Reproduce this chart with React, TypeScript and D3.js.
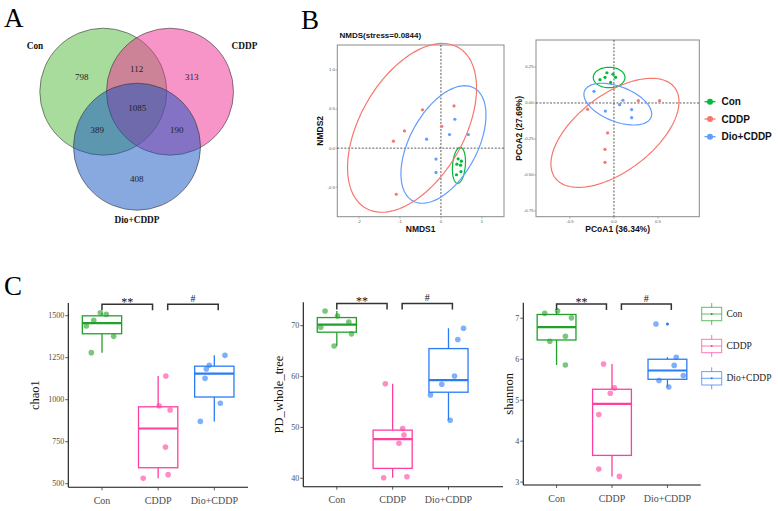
import React from "react";
import * as d3 from "d3";

// ---- data ----
const groups = ["Con", "CDDP", "Dio+CDDP"];

// A: shared / unique OTU counts
// order: Con only, Con&CDDP, CDDP only, all three, Con&Dio, CDDP&Dio, Dio only
const vennCounts = [798, 112, 313, 1085, 389, 190, 408];

// B: NMDS scores
const nmdsStress = 0.0844;
const nmdsCon: [number, number][] = [[0.42, -0.137], [0.5, -0.167], [0.39, -0.205], [0.48, -0.218], [0.49, -0.3], [0.38, -0.34]];
const nmdsCddp: [number, number][] = [[-1.16, 0.09], [-0.89, 0.22], [-0.45, 0.49], [0.32, 0.54], [0.02, 0.28], [-1.09, -0.59]];
const nmdsDio: [number, number][] = [[0.34, 0.37], [-0.35, 0.115], [0.21, 0.175], [0.67, 0.175], [-0.12, -0.14], [-0.12, -0.31]];
// 95% ellipses: [centre x, centre y, half width, half height, correlation]
const nmdsEllipses = [
  [0.44, -0.22, 0.16, 0.23, 0.2],
  [-0.705, 0.26, 1.575, 1.08, 0.47],
  [0.062, 0.047, 1.038, 0.752, 0.5],
];

// B: PCoA scores
const pcoaVar = [36.34, 27.69];
const pcoaCon: [number, number][] = [[-0.159, 0.162], [-0.08, 0.21], [-0.102, 0.178], [-0.011, 0.2], [0.019, 0.178], [-0.038, 0.143]];
const pcoaCddp: [number, number][] = [[-0.299, -0.044], [0.277, 0.016], [0.519, 0.016], [-0.072, -0.208], [-0.102, -0.322], [-0.102, -0.412]];
const pcoaDio: [number, number][] = [[-0.227, 0.081], [-0.098, -0.056], [0.064, -0.012], [0.102, 0.019], [0.201, -0.046], [0.201, -0.102]];
const pcoaEllipses = [
  [-0.055, 0.177, 0.18, 0.071, 0],
  [0.0115, -0.2075, 0.728, 0.379, 0.57],
  [0.0435, -0.008, 0.385, 0.145, -0.47],
];

// C: alpha diversity per sample (Con, CDDP, Dio+CDDP)
const chao1Values = [
  [1518, 1508, 1473, 1439, 1377, 1280],
  [1141, 964, 939, 718, 554, 532],
  [1264, 1205, 1183, 1127, 979, 871],
];
const pdValues = [
  [72.9, 71.9, 69.7, 70.7, 68.4, 66.0],
  [58.6, 49.8, 48.5, 46.9, 40.1, 40.3],
  [69.5, 67.3, 60.1, 58.5, 56.4, 51.4],
];
const shannonValues = [
  [7.12, 7.18, 7.01, 6.44, 6.56, 5.86],
  [5.885, 5.3, 5.17, 4.65, 3.32, 3.14],
  [6.86, 6.05, 5.85, 5.6, 5.48, 5.32],
];
// horizontal jitter of the dots, in category units
const chao1Jitter = [
  [-0.03, 0.076, -0.147, -0.279, 0.208, -0.19],
  [0.137, 0.018, 0.213, 0.13, 0.178, -0.266],
  [0.19, -0.089, -0.142, -0.165, 0.107, -0.249],
];
const pdJitter = [
  [-0.21, 0.013, -0.287, 0.215, 0.263, -0.048],
  [-0.131, 0.179, 0.203, 0.113, -0.161, 0.256],
  [0.269, 0.167, 0.108, -0.12, -0.323, 0.03],
];
const shannonJitter = [
  [-0.214, 0.018, 0.269, -0.122, 0.159, 0.159],
  [-0.152, 0.042, -0.031, -0.238, -0.238, 0.133],
  [-0.207, 0.159, 0.122, 0.287, -0.152, 0.024],
];
const sigLabels = ["**", "#"];

// ---- styles ----
const serif = "'Liberation Serif', 'Times New Roman', serif";
const sans = "'Liberation Sans', Arial, sans-serif";
const ggColors = ["#00BA38", "#F8766D", "#619CFF"];
const boxColors = ["#22a02a", "#ff3f9f", "#2a7cf6"];
const vennFills = ["#51b939", "#ef2991", "#1151c1"];

const fmt = (f: string) => (v: number) => d3.format(f)(v).replace("\u2212", "-");

function ellipsePoints(e: number[]) {
  const [cx, cy, hx, hy, rho] = e;
  const k = Math.sqrt(1 - rho * rho);
  return d3.range(0, 121).map((i) => {
    const t = (i / 120) * 2 * Math.PI;
    return [cx + hx * Math.cos(t), cy + hy * (rho * Math.cos(t) + k * Math.sin(t))] as [number, number];
  });
}

// ---- A: Venn ----
const Venn = () => {
  const r = 63.5;
  const centers = [[103.3, 91.7], [170, 91.7], [137, 146.7]];
  const numPos = [[81.7, 76.7], [136.7, 69.3], [191.7, 76.7], [137.3, 108.3], [97.3, 130], [176.7, 130], [136.7, 179]];
  const namePos = [[35, 49], [244.5, 49], [137, 223]];
  return (
    <g>
      <text x={4} y={27} fontFamily={serif} fontSize={27}>A</text>
      {centers.map((c, i) => (
        <circle key={i} cx={c[0]} cy={c[1]} r={r} fill={vennFills[i]} fillOpacity={0.5} stroke="#333" strokeWidth={0.6} />
      ))}
      {vennCounts.map((v, i) => (
        <text key={i} x={numPos[i][0]} y={numPos[i][1] + 3} textAnchor="middle" fontFamily={serif} fontSize={9} fill="#222">{v}</text>
      ))}
      {groups.map((s, i) => (
        <text key={s} x={namePos[i][0]} y={namePos[i][1]} textAnchor="middle" fontFamily={serif} fontWeight="bold" fontSize={9.3} fill="#111">{s}</text>
      ))}
    </g>
  );
};

// ---- B: ordination panels ----
interface OrdProps {
  box: { l: number; t: number; r: number; b: number };
  xDomain: [number, number];
  yDomain: [number, number];
  xTicks: number[];
  yTicks: number[];
  xFmt: (v: number) => string;
  yFmt: (v: number) => string;
  xLabel: string;
  yLabel: string;
  yLabelX: number;
  series: [number, number][][];
  ellipses: number[][];
}

const OrdPanel = ({ box, xDomain, yDomain, xTicks, yTicks, xFmt, yFmt, xLabel, yLabel, yLabelX, series, ellipses }: OrdProps) => {
  const x = d3.scaleLinear().domain(xDomain).range([box.l, box.r]);
  const y = d3.scaleLinear().domain(yDomain).range([box.b, box.t]);
  const line = d3.line<[number, number]>().x((d) => x(d[0])).y((d) => y(d[1]));
  return (
    <g>
      <rect x={box.l} y={box.t} width={box.r - box.l} height={box.b - box.t} fill="white" stroke="#8a8a8a" strokeWidth={1} />
      <line x1={x(0)} x2={x(0)} y1={box.t} y2={box.b} stroke="#333" strokeWidth={0.8} strokeDasharray="2,1.5" />
      <line x1={box.l} x2={box.r} y1={y(0)} y2={y(0)} stroke="#333" strokeWidth={0.8} strokeDasharray="2,1.5" />
      {ellipses.map((e, i) => (
        <path key={"e" + i} d={line(ellipsePoints(e))!} fill="none" stroke={ggColors[i]} strokeWidth={1.2} />
      ))}
      {series.map((pts, i) =>
        pts.map((p, j) => <circle key={i + "-" + j} cx={x(p[0])} cy={y(p[1])} r={1.6} fill={ggColors[i]} />)
      )}
      {xTicks.map((t) => (
        <g key={"x" + t}>
          <line x1={x(t)} x2={x(t)} y1={box.b} y2={box.b + 2} stroke="#8a8a8a" strokeWidth={0.6} />
          <text x={x(t)} y={box.b + 6} textAnchor="middle" fontFamily={sans} fontSize={4.2} fill="#555">{xFmt(t)}</text>
        </g>
      ))}
      {yTicks.map((t) => (
        <g key={"y" + t}>
          <line x1={box.l - 2} x2={box.l} y1={y(t)} y2={y(t)} stroke="#8a8a8a" strokeWidth={0.6} />
          <text x={box.l - 2.5} y={y(t) + 1.4} textAnchor="end" fontFamily={sans} fontSize={4.2} fill="#555">{yFmt(t)}</text>
        </g>
      ))}
      <text x={(box.l + box.r) / 2} y={232} textAnchor="middle" fontFamily={sans} fontWeight="bold" fontSize={8.5} fill="#111">{xLabel}</text>
      <text transform={`translate(${yLabelX},${(box.t + box.b) / 2}) rotate(-90)`} textAnchor="middle" fontFamily={sans} fontWeight="bold" fontSize={8.5} fill="#111">{yLabel}</text>
    </g>
  );
};

// ---- C: box plots ----
interface BoxProps {
  x0: number;
  x1: number;
  axisEnd: number;
  yTop: number;
  yBottom: number;
  yDomain: [number, number];
  yTicks: number[];
  values: number[][];
  jitter: number[][];
  label: string;
  labelX: number;
}

const BoxPanel = ({ x0, x1, axisEnd, yTop, yBottom, yDomain, yTicks, values, jitter, label, labelX }: BoxProps) => {
  const x = d3.scaleLinear().domain([-0.6, groups.length - 0.4]).range([x0, x1]);
  const y = d3.scaleLinear().domain(yDomain).range([yBottom, yTop]);
  const bw = (x(1) - x(0)) * 0.7;
  const stats = values.map((vals) => {
    const s = vals.slice().sort(d3.ascending);
    const q1 = d3.quantileSorted(s, 0.25)!;
    const med = d3.quantileSorted(s, 0.5)!;
    const q3 = d3.quantileSorted(s, 0.75)!;
    const iqr = q3 - q1;
    const inside = s.filter((v) => v >= q1 - 1.5 * iqr && v <= q3 + 1.5 * iqr);
    const out = s.filter((v) => v < q1 - 1.5 * iqr || v > q3 + 1.5 * iqr);
    return { q1, med, q3, lo: d3.min(inside)!, hi: d3.max(inside)!, out };
  });
  const bTop = yTop + 1.3;
  const brackets = [
    { from: 0, to: 0.9, label: sigLabels[0] },
    { from: 1.17, to: 2.07, label: sigLabels[1] },
  ];
  return (
    <g>
      {stats.map((s, i) => (
        <g key={"b" + i} stroke={boxColors[i]} fill="none">
          <line x1={x(i)} x2={x(i)} y1={y(s.hi)} y2={y(s.q3)} strokeWidth={1.3} />
          <line x1={x(i)} x2={x(i)} y1={y(s.q1)} y2={y(s.lo)} strokeWidth={1.3} />
          <rect x={x(i) - bw / 2} y={y(s.q3)} width={bw} height={y(s.q1) - y(s.q3)} fill="white" strokeWidth={1.3} />
          <line x1={x(i) - bw / 2} x2={x(i) + bw / 2} y1={y(s.med)} y2={y(s.med)} strokeWidth={2.2} />
          {s.out.map((o, k) => (
            <circle key={k} cx={x(i)} cy={y(o)} r={1.5} fill={boxColors[i]} stroke="none" />
          ))}
        </g>
      ))}
      {values.map((vals, i) =>
        vals.map((v, j) => (
          <circle key={i + "-" + j} cx={x(i + jitter[i][j])} cy={y(v)} r={2.8} fill={boxColors[i]} fillOpacity={0.6} />
        ))
      )}
      <line x1={x0} x2={x0} y1={yTop} y2={yBottom} stroke="#111" strokeWidth={1.1} />
      <line x1={x0} x2={axisEnd} y1={yBottom} y2={yBottom} stroke="#111" strokeWidth={1.1} />
      {yTicks.map((t) => (
        <g key={"y" + t}>
          <line x1={x0 - 3} x2={x0} y1={y(t)} y2={y(t)} stroke="#333" strokeWidth={0.8} />
          <text x={x0 - 4} y={y(t) + 2.7} textAnchor="end" fontFamily={serif} fontSize={8} fill="#4d4d4d">{t}</text>
        </g>
      ))}
      {groups.map((g, i) => (
        <g key={g}>
          <line x1={x(i)} x2={x(i)} y1={yBottom} y2={yBottom + 3} stroke="#333" strokeWidth={0.8} />
          <text x={x(i)} y={yBottom + 16.5} textAnchor="middle" fontFamily={serif} fontSize={10} fill="#4d4d4d">{g}</text>
        </g>
      ))}
      {brackets.map((b, k) => (
        <g key={"s" + k}>
          <path d={`M${x(b.from)},${bTop + 6}V${bTop}H${x(b.to)}V${bTop + 6}`} fill="none" stroke="#333" strokeWidth={1.5} />
          <text x={(x(b.from) + x(b.to)) / 2} y={b.label === "#" ? bTop - 2.5 : bTop + 1.5} textAnchor="middle" fontFamily={serif} fontSize={b.label === "#" ? 10 : 12} fill="#111">{b.label}</text>
        </g>
      ))}
      <text transform={`translate(${labelX},${(yTop + yBottom) / 2}) rotate(-90)`} textAnchor="middle" fontFamily={serif} fontSize={12.5} fill="#111">{label}</text>
    </g>
  );
};

const BoxLegend = () => {
  const ys = [314, 346, 378.3];
  return (
    <g>
      {groups.map((g, i) => (
        <g key={g} stroke={boxColors[i]} strokeOpacity={0.7} fill="none" strokeWidth={1}>
          <line x1={711.7} x2={711.7} y1={ys[i] - 11} y2={ys[i] + 11} />
          <rect x={701.7} y={ys[i] - 6.7} width={20} height={13.4} fill="white" />
          <line x1={701.7} x2={721.7} y1={ys[i]} y2={ys[i]} />
          <circle cx={711.7} cy={ys[i]} r={1} fill={boxColors[i]} stroke="none" />
          <text x={726.5} y={ys[i] + 3} fontFamily={serif} fontSize={9.5} fill="#222" stroke="none">{g}</text>
        </g>
      ))}
    </g>
  );
};

const OrdLegend = () => {
  const ys = [101.7, 119, 136.7];
  return (
    <g>
      {groups.map((g, i) => (
        <g key={g}>
          <line x1={704.5} x2={715.5} y1={ys[i]} y2={ys[i]} stroke={ggColors[i]} strokeWidth={1.3} />
          <circle cx={710} cy={ys[i]} r={3} fill={ggColors[i]} />
          <text x={721.5} y={ys[i] + 3.6} fontFamily={sans} fontWeight="bold" fontSize={10} fill="#111">{g}</text>
        </g>
      ))}
    </g>
  );
};

const App = () => {
  const f1 = fmt(".1f");
  return (
    <div style={{ position: "absolute", left: 0, top: 0 }}>
      <svg width={778} height={511} style={{ display: "block", background: "white" }}>
        <Venn />
        <text x={301} y={29} fontFamily={serif} fontSize={27}>B</text>
        <text x={339.5} y={38} fontFamily={sans} fontWeight="bold" fontSize={8} fill="#111">{`NMDS(stress=${nmdsStress})`}</text>
        <OrdPanel
          box={{ l: 337.3, t: 45, r: 504, b: 216.7 }}
          xDomain={[-2.53, 1.54]}
          yDomain={[-0.877, 1.32]}
          xTicks={[-2, -1, 0, 1]}
          yTicks={[-0.5, 0, 0.5, 1]}
          xFmt={fmt("d")}
          yFmt={f1}
          xLabel="NMDS1"
          yLabel="NMDS2"
          yLabelX={323}
          series={[nmdsCon, nmdsCddp, nmdsDio]}
          ellipses={nmdsEllipses}
        />
        <OrdPanel
          box={{ l: 536, t: 40, r: 699.3, b: 216.7 }}
          xDomain={[-0.886, 0.97]}
          yDomain={[-0.79, 0.4375]}
          xTicks={[-0.5, 0, 0.5]}
          yTicks={[-0.75, -0.5, -0.25, 0, 0.25]}
          xFmt={f1}
          yFmt={fmt(".2f")}
          xLabel={`PCoA1 (${pcoaVar[0]}%)`}
          yLabel={`PCoA2 (${pcoaVar[1]}%)`}
          yLabelX={521.5}
          series={[pcoaCon, pcoaCddp, pcoaDio]}
          ellipses={pcoaEllipses}
        />
        <OrdLegend />

        <text x={4} y={295} fontFamily={serif} fontSize={27}>C</text>
        <BoxPanel x0={68.3} x1={248} axisEnd={248} yTop={303} yBottom={487.3} yDomain={[478.6, 1575.6]} yTicks={[500, 750, 1000, 1250, 1500]} values={chao1Values} jitter={chao1Jitter} label="chao1" labelX={39} />
        <BoxPanel x0={303.3} x1={482} axisEnd={503} yTop={302.3} yBottom={486.7} yDomain={[38.35, 74.6]} yTicks={[40, 50, 60, 70]} values={pdValues} jitter={pdJitter} label="PD_whole_tree" labelX={283} />
        <BoxPanel x0={523.3} x1={700.7} axisEnd={700.7} yTop={302.7} yBottom={485} yDomain={[2.93, 7.38]} yTicks={[3, 4, 5, 6, 7]} values={shannonValues} jitter={shannonJitter} label="shannon" labelX={513} />
        <BoxLegend />
      </svg>
    </div>
  );
};

export default App;
